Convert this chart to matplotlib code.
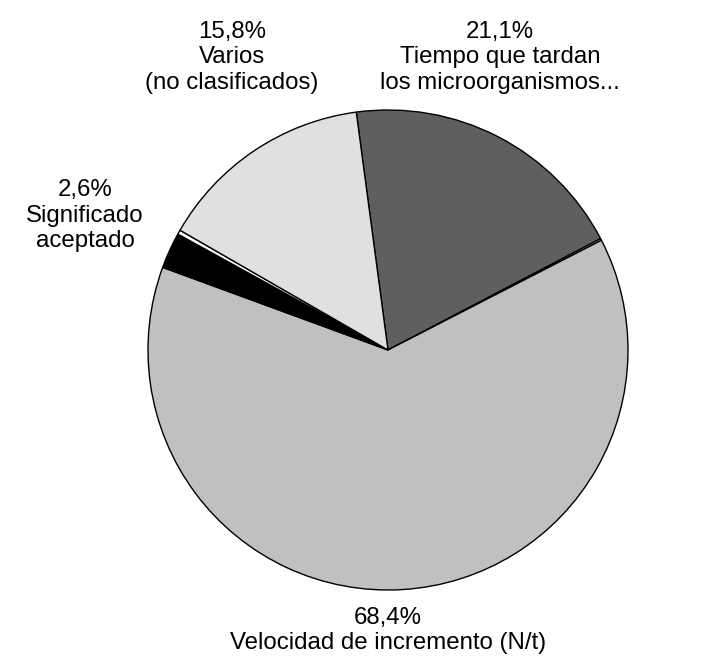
import matplotlib.pyplot as plt

plt.rcParams['font.family'] = ['Liberation Sans', 'DejaVu Sans']

# slice values (counts), clockwise starting at the top
values = [8, 0.05, 26, 1, 0.12, 6]
colors = ['#5f5f5f', '#ffffff', '#c0c0c0', '#000000', '#ffffff', '#e0e0e0']

label_texts = ['21,1%\nTiempo que tardan\nlos microorganismos...',
               '68,4%\nVelocidad de incremento (N/t)',
               '2,6%\nSignificado\naceptado',
               '15,8%\nVarios\n(no clasificados)']
# label anchor positions in pie radius units
label_pos = [(0.467, 1.22), (0.0, -1.17), (-1.262, 0.56), (-0.65, 1.22)]

fig = plt.figure(figsize=(7.17, 6.59), dpi=100)
ax = fig.add_axes([148 / 717, 69 / 659, 480 / 717, 480 / 659])

ax.pie(values, colors=colors, startangle=97.6, counterclock=False,
       radius=1, wedgeprops=dict(edgecolor='black', linewidth=1.0))

for txt, (x, y) in zip(label_texts, label_pos):
    ax.text(x, y, txt, ha='center', va='center', fontsize=17.3,
            linespacing=1.2, clip_on=False)

ax.set_xlim(-1, 1)
ax.set_ylim(-1, 1)
ax.set_aspect('equal')
ax.axis('off')

fig.savefig('out.png', dpi=100)
